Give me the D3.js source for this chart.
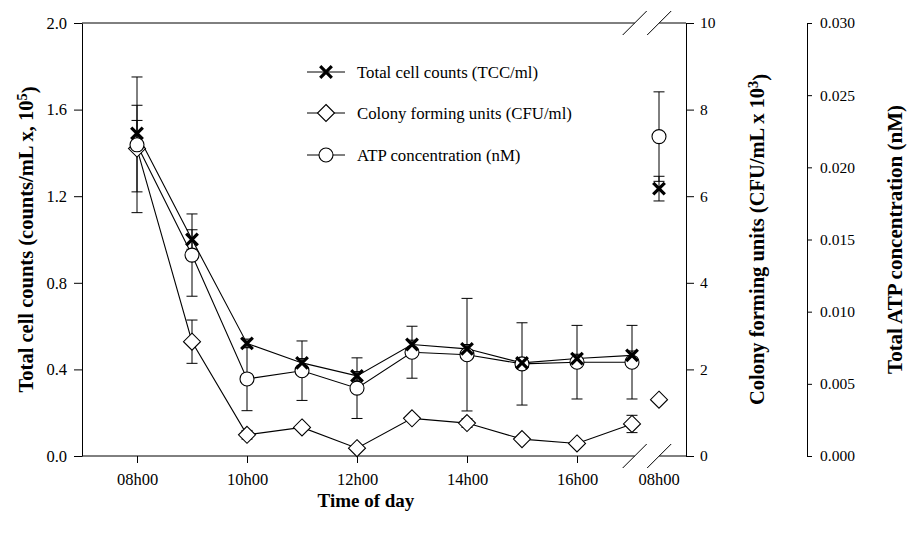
<!DOCTYPE html>
<html><head><meta charset="utf-8">
<script src="https://cdn.jsdelivr.net/npm/d3@7"></script>
<style>
html,body{margin:0;padding:0;background:#fff;}
text{font-family:"Liberation Serif","Times New Roman",serif;fill:#000;}
</style></head>
<body><svg id="c" width="907" height="533"></svg>
<script>
// ---- data ----
const hours = [8, 9, 10, 11, 12, 13, 14, 15, 16, 17, 8];
const day   = [0, 0, 0, 0, 0, 0, 0, 0, 0, 0, 1];
const tcc    = [1.49, 1.00, 0.52, 0.43, 0.37, 0.515, 0.495, 0.43, 0.45, 0.465, 1.235];
const tccErr = [0.06, 0.045, 0.02, 0.02, 0.02, 0.02, 0.02, 0.02, 0.02, 0.02, 0.057];
const cfu    = [7.1, 2.64, 0.49, 0.66, 0.18, 0.87, 0.76, 0.39, 0.29, 0.74, 1.3];
const cfuErr = [1.0, 0.5, 0.1, 0.05, 0.05, 0.05, 0.1, 0.05, 0.05, 0.2, 0];
const atp    = [0.02156, 0.01392, 0.00534, 0.00591, 0.0047, 0.00719, 0.00702, 0.00638, 0.0065, 0.0065, 0.02213];
const atpErr = [0.0047, 0.00285, 0.0022, 0.00206, 0.0021, 0.0018, 0.0039, 0.00285, 0.00255, 0.00255, 0.0031];
const xTickHours = [8, 10, 12, 14, 16];
const leftTicks = [0, 0.4, 0.8, 1.2, 1.6, 2.0];
const cfuTicks = [0, 2, 4, 6, 8, 10];
const atpTicks = [0, 0.005, 0.010, 0.015, 0.020, 0.025, 0.030];
const legendLabels = ["Total cell counts (TCC/ml)", "Colony forming units (CFU/ml)", "ATP concentration (nM)"];

(function () {
// ---- layout ----
const svg = d3.select("#c");
const yTop = 23, yBot = 456, xLeft = 82, xRight = 686, atpX = 807;
const yL = d3.scaleLinear().domain([0, 2]).range([yBot, yTop]);
const yC = d3.scaleLinear().domain([0, 10]).range([yBot, yTop]);
const yA = d3.scaleLinear().domain([0, 0.03]).range([yBot, yTop]);
const xMain = d3.scaleLinear().domain([7, 17]).range([xLeft, 632]);
const xNext = d3.scaleLinear().domain([7.5, 8.5]).range([631.5, 686.5]);
const xPos = i => day[i] === 0 ? xMain(hours[i]) : xNext(hours[i]);
const fmtH = h => (h < 10 ? "0" : "") + h + "h00";

const g = svg.append("g");
// frame lines
const brk1 = 634.7, brk2 = 659.2;
[yTop, yBot].forEach(y => {
  g.append("line").attr("x1", xLeft).attr("x2", brk1).attr("y1", y).attr("y2", y).attr("stroke", "#000");
  g.append("line").attr("x1", brk2).attr("x2", xRight).attr("y1", y).attr("y2", y).attr("stroke", "#000");
  [brk1, brk2].forEach(bx => {
    g.append("line").attr("x1", bx - 12).attr("y1", y + 12).attr("x2", bx + 12).attr("y2", y - 12)
      .attr("stroke", "#000").attr("stroke-width", 1);
  });
});

// left axis
const axL = g.append("g").attr("transform", `translate(${xLeft},0)`)
  .call(d3.axisLeft(yL).tickValues(leftTicks).tickFormat(d3.format(".1f")).tickSize(8).tickPadding(7).tickSizeOuter(0));
// right CFU axis
const axR = g.append("g").attr("transform", `translate(${xRight},0)`)
  .call(d3.axisRight(yC).tickValues(cfuTicks).tickFormat(d3.format("d")).tickSize(8).tickPadding(6).tickSizeOuter(0));
// ATP axis
const axA = g.append("g").attr("transform", `translate(${atpX},0)`)
  .call(d3.axisRight(yA).tickValues(atpTicks).tickFormat(d3.format(".3f")).tickSize(5).tickPadding(8).tickSizeOuter(0));
// x axis ticks (no domain)
const axX = g.append("g").attr("transform", `translate(0,${yBot})`)
  .call(d3.axisBottom(xMain).tickValues(xTickHours).tickFormat(fmtH).tickSize(7).tickPadding(10).tickSizeOuter(0));
axX.select(".domain").remove();
g.append("text").attr("x", xNext(8)).attr("y", yBot + 17).attr("dy", "0.71em")
  .attr("text-anchor", "middle").attr("font-size", 16.5).text(fmtH(8));

[axL, axX].forEach(a => a.selectAll("text").attr("font-size", 16.5).attr("font-family", "Liberation Serif"));
[axR, axA].forEach(a => a.selectAll("text").attr("font-size", 15.5).attr("font-family", "Liberation Serif"));
[axL, axR, axA, axX].forEach(a => a.selectAll("path,line").attr("stroke", "#000").attr("stroke-width", 1));

// ---- series ----
const series = [
  {v: tcc, e: tccErr, y: yL, m: "x"},
  {v: cfu, e: cfuErr, y: yC, m: "d"},
  {v: atp, e: atpErr, y: yA, m: "o"}
];
const idx0 = d3.range(hours.length).filter(i => day[i] === 0);
const lineGen = (s) => d3.line().x(i => xPos(i)).y(i => s.y(s.v[i]));
series.forEach(s => {
  g.append("path").attr("d", lineGen(s)(idx0)).attr("fill", "none").attr("stroke", "#000").attr("stroke-width", 1.1);
});
// error bars
series.forEach(s => {
  d3.range(hours.length).forEach(i => {
    if (!s.e[i]) return;
    const x = xPos(i), y1 = s.y(s.v[i] + s.e[i]), y2 = s.y(s.v[i] - s.e[i]);
    g.append("line").attr("x1", x).attr("x2", x).attr("y1", y1).attr("y2", y2).attr("stroke", "#000");
    [y1, y2].forEach(yy => g.append("line").attr("x1", x - 5.5).attr("x2", x + 5.5).attr("y1", yy).attr("y2", yy).attr("stroke", "#000"));
  });
});
function marker(sel, type, x, y) {
  if (type === "x") {
    const r = 5.8;
    sel.append("path").attr("d", `M${x - r},${y - r}L${x + r},${y + r}M${x - r},${y + r}L${x + r},${y - r}`)
      .attr("stroke", "#000").attr("stroke-width", 3.2).attr("fill", "none");
  } else if (type === "d") {
    const r = 8.5;
    sel.append("path").attr("d", `M${x},${y - r}L${x + r},${y}L${x},${y + r}L${x - r},${y}Z`)
      .attr("fill", "#fff").attr("stroke", "#000").attr("stroke-width", 1.1);
  } else {
    sel.append("circle").attr("cx", x).attr("cy", y).attr("r", 7)
      .attr("fill", "#fff").attr("stroke", "#000").attr("stroke-width", 1.1);
  }
}
[series[1], series[2], series[0]].forEach(s => {
  d3.range(hours.length).forEach(i => marker(g, s.m, xPos(i), s.y(s.v[i])));
});

// ---- legend ----
const legY = [72, 113, 155];
const legM = ["x", "d", "o"];
legendLabels.forEach((t, k) => {
  g.append("line").attr("x1", 307).attr("x2", 345).attr("y1", legY[k]).attr("y2", legY[k]).attr("stroke", "#000");
  marker(g, legM[k], 326, legY[k]);
  g.append("text").attr("x", 357).attr("y", legY[k]).attr("dy", "0.35em").attr("font-size", 16.8).text(t);
});

// ---- titles ----
g.append("text").attr("x", 366).attr("y", 507).attr("text-anchor", "middle")
  .attr("font-size", 19).attr("font-weight", "bold").text("Time of day");

function vTitle(x, size, parts) {
  const t = g.append("text").attr("transform", `translate(${x},${(yTop + yBot) / 2}) rotate(-90)`)
    .attr("text-anchor", "middle").attr("font-size", size).attr("font-weight", "bold");
  parts.forEach(p => {
    if (p.sup) {
      t.append("tspan").attr("dy", "-0.45em").attr("font-size", size * 0.7).text(p.text);
    } else if (p.after) {
      t.append("tspan").attr("dy", "0.45em").text(p.text);
    } else {
      t.append("tspan").text(p.text);
    }
  });
}
vTitle(33, 20.5, [{text: "Total cell counts (counts/mL x, 10"}, {text: "5", sup: true}, {text: ")", after: true}]);
vTitle(764, 20.5, [{text: "Colony forming units (CFU/mL x 10"}, {text: "3", sup: true}, {text: ")", after: true}]);
vTitle(902, 21, [{text: "Total ATP concentration (nM)"}]);
})();
</script></body></html>
